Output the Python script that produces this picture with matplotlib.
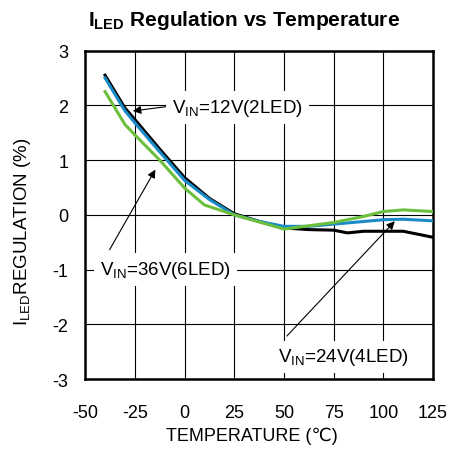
# I_LED regulation vs temperature

import matplotlib
matplotlib.use('Agg')
import matplotlib.pyplot as plt

plt.rcParams['font.family'] = ['Liberation Sans', 'DejaVu Sans']
plt.rcParams['mathtext.fontset'] = 'custom'
plt.rcParams['mathtext.rm'] = 'Liberation Sans'
plt.rcParams['mathtext.bf'] = 'Liberation Sans:bold'
plt.rcParams['axes.unicode_minus'] = False

# ── DATA ───────────────────────────────────────────────
temp_12v = [-40, -30, -25, -12.5, 0, 12.5, 25, 37.5, 50, 62.5, 75, 82, 90, 110, 125]
reg_12v = [2.55, 1.95, 1.74, 1.20, 0.68, 0.30, 0.02, -0.12, -0.24, -0.27, -0.28, -0.33, -0.30, -0.30, -0.41]

temp_24v = [-40, -30, -25, -12.5, 0, 12.5, 25, 37.5, 50, 62.5, 75, 100, 110, 125]
reg_24v = [2.50, 1.90, 1.68, 1.15, 0.63, 0.28, 0.00, -0.12, -0.21, -0.21, -0.17, -0.09, -0.08, -0.11]

temp_36v = [-40, -30, -25, -12.5, 0, 10, 25, 37.5, 50, 62.5, 75, 90, 100, 110, 125]
reg_36v = [2.25, 1.65, 1.46, 1.00, 0.49, 0.18, 0.00, -0.13, -0.26, -0.20, -0.14, -0.03, 0.06, 0.09, 0.06]

x_ticks = [-50, -25, 0, 25, 50, 75, 100, 125]
y_ticks = [-3, -2, -1, 0, 1, 2, 3]

# ── PLOT ───────────────────────────────────────────────
fig = plt.figure(figsize=(4.53, 4.52), dpi=100)
ax = fig.add_axes([0.188, 0.159, 0.768, 0.727])

ax.plot(temp_12v, reg_12v, color='black', linewidth=2.2, zorder=3)
ax.plot(temp_24v, reg_24v, color='#1b8bc8', linewidth=2.2, zorder=4)
ax.plot(temp_36v, reg_36v, color='#6cbf3c', linewidth=2.2, zorder=5)

ax.set_xlim(-50, 125)
ax.set_ylim(-3, 3)
ax.set_xticks(x_ticks)
ax.set_yticks(y_ticks)
ax.grid(True, color='black', linewidth=0.8)
ax.set_axisbelow(True)
ax.tick_params(length=0, labelsize=13)
ax.tick_params(axis='x', pad=18)
ax.tick_params(axis='y', pad=12)
for s in ax.spines.values():
    s.set_linewidth(1.8)

ax.set_xlabel('TEMPERATURE (℃)', fontsize=13)
ax.xaxis.set_label_coords(0.478, -0.146)
ax.set_ylabel(r'I$_{\mathrm{LED}}$REGULATION (%)', fontsize=13.5)
ax.yaxis.set_label_coords(-0.149, 0.451)
fig.text(0.539, 0.954, r'$\mathbf{I_{LED}}$ Regulation vs Temperature',
         ha='center', va='center', fontsize=15, fontweight='bold')

box = dict(facecolor='white', edgecolor='none', pad=4)
ax.text(-6.3, 1.96, r'V$_{\mathrm{IN}}$=12V(2LED)', fontsize=13.5,
        va='center', ha='left', bbox=box, zorder=2)
ax.text(-42.5, -1.0, r'V$_{\mathrm{IN}}$=36V(6LED)', fontsize=13.5,
        va='center', ha='left', bbox=box, zorder=2)
ax.text(47, -2.59, r'V$_{\mathrm{IN}}$=24V(4LED)', fontsize=13.5,
        va='center', ha='left', bbox=box, zorder=2)

arrow = dict(arrowstyle='-|>', color='black', linewidth=0.8, mutation_scale=12)
ax.annotate('', xy=(-27.4, 1.89), xytext=(-8.1, 1.98), arrowprops=arrow, zorder=6)
ax.annotate('', xy=(-14, 0.87), xytext=(-38.4, -0.68), arrowprops=arrow, zorder=6)
ax.annotate('', xy=(106.7, -0.08), xytext=(50.5, -2.25), arrowprops=arrow, zorder=6)

fig.savefig('out.png', dpi=100)
